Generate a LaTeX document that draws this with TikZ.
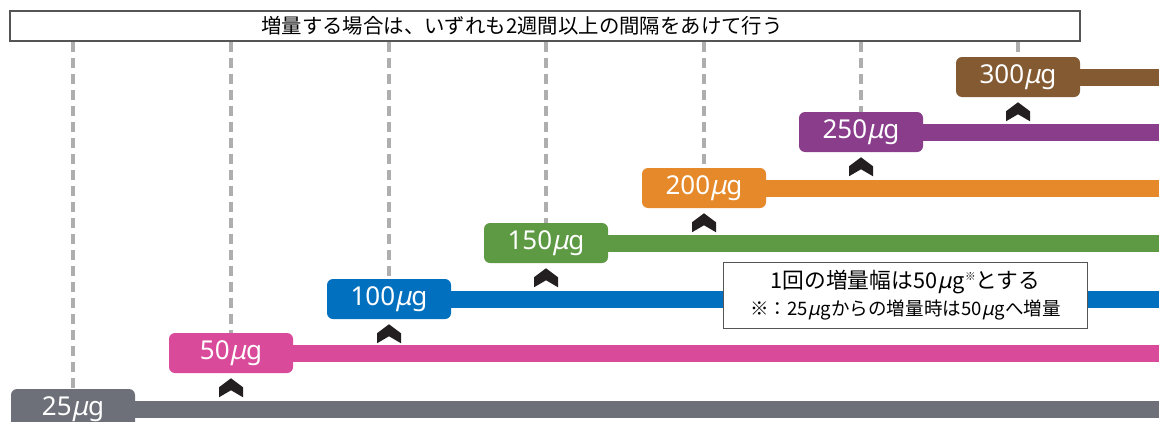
\documentclass[tikz,border=0pt]{standalone}
\usepackage{fontspec}
\setmainfont{Noto Sans CJK JP}
\newfontfamily\labfont{Noto Sans}
\newfontfamily\mufont[FakeSlant=0.22]{Noto Sans}
\newcommand{\ug}{{\mufont μ}g}
\newcommand{\ugn}{\kern0.03em{\mufont μ}\kern0.06em g}
\definecolor{cgray}{HTML}{6D7078}
\definecolor{cpink}{HTML}{D94A9B}
\definecolor{cblue}{HTML}{0070BF}
\definecolor{cgreen}{HTML}{5E9A44}
\definecolor{corange}{HTML}{E5892A}
\definecolor{cpurple}{HTML}{8A3D8B}
\definecolor{cbrown}{HTML}{845A32}
\definecolor{cdash}{HTML}{AEAEAE}
\definecolor{cchev}{HTML}{231F20}
\definecolor{cframe}{HTML}{555555}
\pgfdeclarelayer{bg}
\pgfsetlayers{bg,main}
\tikzset{
  dose/.style={fill=#1, draw=none, rounded corners=4.5pt, minimum width=93pt, minimum height=30pt,
    inner sep=0pt, text=white, font=\labfont\fontsize{19.5pt}{21pt}\selectfont},
  bar/.style={draw=#1, line width=12.75pt},
  vdash/.style={draw=cdash, line width=2.4pt, dash pattern=on 8pt off 4pt},
  topbox/.style={draw=cframe, line width=1pt, fill=white, minimum width=802.5pt, minimum height=22.5pt, inner sep=0pt},
  notebox/.style={draw=cframe, line width=1.2pt, fill=white, minimum width=273pt, minimum height=49.5pt, inner sep=0pt, align=center},
  chev/.style={fill=cchev, draw=none}
}
\begin{document}
\begin{tikzpicture}[x=0.75pt,y=-0.75pt]
\useasboundingbox (0,0) rectangle (1159,421);
\clip (0,0) rectangle (1159,421);
\coordinate (R) at (1162,0);
% top frame
\node[topbox] (top) at (545,26) {};
\node[font=\fontsize{15.3pt}{17pt}\selectfont, inner sep=0pt] (title) at (522,26) {増量する場合は、いずれも2週間以上の間隔をあけて行う};
% dose boxes
\node[dose=cgray]   (d25)  at (73,409)  {25\ug};
\node[dose=cpink]   (d50)  at (231,353) {50\ug};
\node[dose=cblue]   (d100) at (389,299) {100\ug};
\node[dose=cgreen]  (d150) at (546,243) {150\ug};
\node[dose=corange] (d200) at (704,188) {200\ug};
\node[dose=cpurple] (d250) at (861,132) {250\ug};
\node[dose=cbrown]  (d300) at (1018,77) {300\ug};
\begin{pgfonlayer}{bg}
% dashed lines
\foreach \n in {d25,d50,d100,d150,d200,d250,d300}
  \draw[vdash] (\n.north |- top.south) -- (\n.north);
% bars
\draw[bar=cgray]   (d25.east)  -- (d25.east -| R);
\draw[bar=cpink]   (d50.east)  -- (d50.east -| R);
\draw[bar=cblue]   (d100.east) -- (d100.east -| R);
\draw[bar=cgreen]  (d150.east) -- (d150.east -| R);
\draw[bar=corange] (d200.east) -- (d200.east -| R);
\draw[bar=cpurple] (d250.east) -- (d250.east -| R);
\draw[bar=cbrown]  (d300.east) -- (d300.east -| R);
\end{pgfonlayer}
% chevrons
\foreach \n in {d50,d100,d150,d200,d250,d300}
  \fill[chev] ([yshift=-3.75pt]\n.south) -- ++(12,9) -- ++(0,10) -- ++(-12,-7) -- ++(-12,7) -- ++(0,-10) -- cycle;
% note
\node[notebox] (note) at (905.5,295.5) {{\fontsize{16.3pt}{19pt}\selectfont 1回の増量幅は50\ugn\raisebox{0.4em}{\fontsize{8pt}{8pt}\selectfont ※}とする}\\[3.5pt]
{\fontsize{13.9pt}{16pt}\selectfont ※：25\ugn からの増量時は50\ugn へ増量}};
\end{tikzpicture}
\end{document}
